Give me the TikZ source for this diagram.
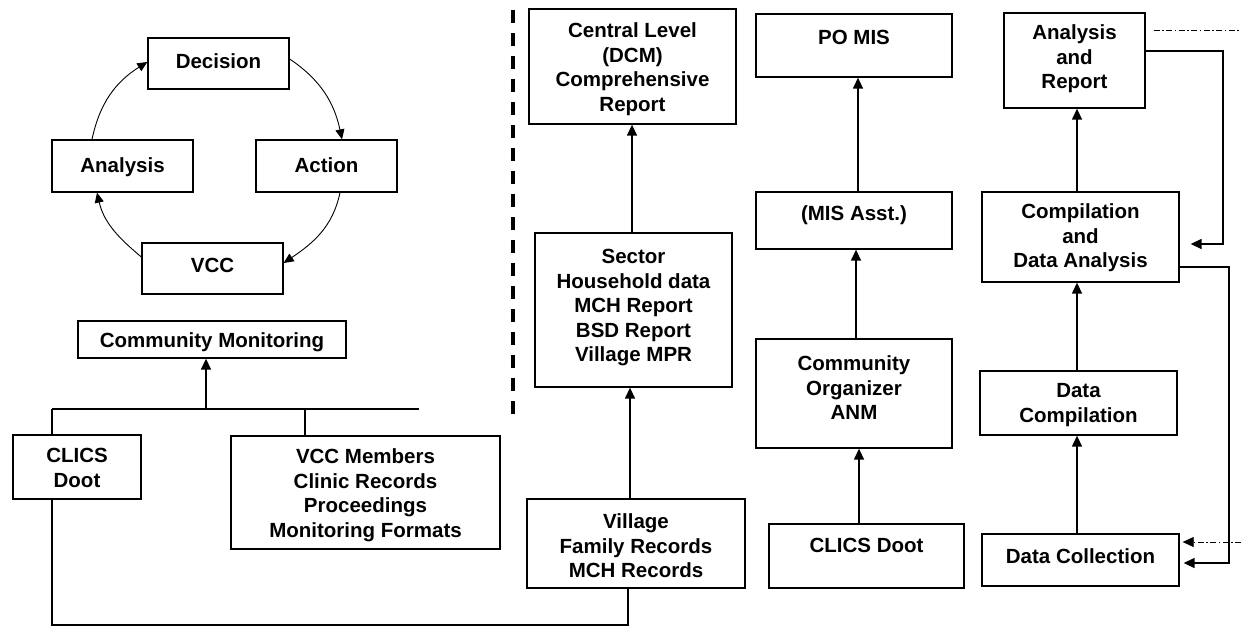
\documentclass[tikz,border=0pt]{standalone}
\usepackage{fontspec}
\setmainfont{Liberation Sans}
\usetikzlibrary{arrows.meta}
\newcommand\mybox[7]{%
  \node[boxst, minimum width=#4pt, minimum height=#5pt] (#1) at (#2,-#3) {};
  \node[txtst] (#1t) at (#2,-#6) {#7};}
\begin{document}
\begin{tikzpicture}[x=1pt,y=1pt,
  boxst/.style={draw, line width=1.3pt, inner sep=0pt},
  txtst/.style={inner sep=0pt, align=center, font=\fontsize{20.5}{24.5}\selectfont\bfseries},
  arr/.style={line width=1.4pt, -{Triangle[length=11pt,width=10pt]}},
  arcarr/.style={line width=0.9pt, -{Triangle[length=10pt,width=9pt]}},
  plain/.style={line width=1.4pt},
  dashdot/.style={line width=0.8pt, dash pattern=on 6pt off 2.5pt on 1.5pt off 2.5pt}]
\useasboundingbox (0,0) rectangle (1241,-627);
% cycle
\mybox{dec}{218.5}{63.5}{141}{51}{61}{Decision}
\mybox{ana}{122.5}{166}{141}{52}{167}{Analysis}
\mybox{act}{326.5}{166}{141}{52}{165}{Action}
\mybox{vcc}{212.5}{268.5}{141}{51}{265}{VCC}
\draw[arcarr] ([xshift=-30.5pt]ana.north) to[out=78,in=212] ([yshift=1.5pt]dec.west);
\draw[arcarr] ([yshift=4.5pt]dec.east) to[out=-34,in=102] ([xshift=15.5pt]act.north);
\draw[arcarr] ([xshift=13.5pt]act.south) to[out=-102,in=34] ([yshift=5.5pt]vcc.east);
\draw[arcarr] ([yshift=11.5pt]vcc.west) to[out=140,in=-77] ([xshift=-25.5pt]ana.south);
% community monitoring
\mybox{cm}{212}{339.5}{268}{37}{342}{Community Monitoring}
\mybox{clicsA}{77}{467}{128}{64}{468}{CLICS\\Doot}
\mybox{vccm}{365.5}{492.5}{269}{113}{495}{VCC Members\\Clinic Records\\Proceedings\\Monitoring Formats}
\coordinate (busL) at (52,-409);
\coordinate (busR) at (419,-409);
\coordinate (busM) at (206,-409);
\coordinate (busV) at (305,-409);
\draw[plain] (busL) -- (busR);
\draw[arr] (busM) -- (cm.south -| busM);
\draw[plain] (busL) -- (clicsA.north -| busL);
\draw[plain] (busV) -- (vccm.north -| busV);
% dashed separator
\coordinate (sepT) at (513,-10);
\coordinate (sepB) at (513,-420);
\draw[line width=3.5pt, dash pattern=on 13pt off 10pt] (sepT) -- (sepB);
% central column
\mybox{central}{632.5}{66.5}{207}{115}{69}{Central Level\\(DCM)\\Comprehensive\\Report}
\mybox{sector}{633.5}{310}{197}{154}{308}{Sector\\Household data\\MCH Report\\BSD Report\\Village MPR}
\mybox{village}{636}{543.5}{218}{89}{546}{Village\\Family Records\\MCH Records}
\coordinate (xc1) at (632,0);
\coordinate (xc2) at (630,0);
\draw[arr] (sector.north -| xc1) -- (central.south -| xc1);
\draw[arr] (village.north -| xc2) -- (sector.south -| xc2);
\coordinate (botL) at (52,-625);
\coordinate (botR) at (628,-625);
\draw[plain] (clicsA.south -| botL) -- (botL) -- (botR) -- (village.south -| botR);
% MIS column
\mybox{pomis}{854}{45.5}{196}{63}{37}{PO MIS}
\mybox{misasst}{854}{220.5}{196}{57}{215}{(MIS Asst.)}
\mybox{co}{854}{393.5}{196}{109}{388}{Community\\Organizer\\ANM}
\mybox{clicsB}{866.5}{556}{195}{64}{545}{CLICS Doot}
\coordinate (xm1) at (858,0);
\coordinate (xm2) at (856,0);
\coordinate (xm3) at (859,0);
\draw[arr] (misasst.north -| xm1) -- (pomis.south -| xm1);
\draw[arr] (co.north -| xm2) -- (misasst.south -| xm2);
\draw[arr] (clicsB.north -| xm3) -- (co.south -| xm3);
% right column
\mybox{ar}{1074.5}{60.5}{141}{95}{59}{Analysis\\and\\Report}
\mybox{cda}{1080.5}{237}{197}{90}{238}{Compilation\\and\\Data Analysis}
\mybox{dcomp}{1078.5}{403}{197}{64}{405}{Data\\Compilation}
\mybox{dcol}{1080.5}{560}{197}{52}{556}{Data Collection}
\coordinate (xr) at (1077,0);
\draw[arr] (dcol.north -| xr) -- (dcomp.south -| xr);
\draw[arr] (dcomp.north -| xr) -- (cda.south -| xr);
\draw[arr] (cda.north -| xr) -- (ar.south -| xr);
\coordinate (lp1a) at (1223,-51);
\coordinate (lp1b) at (1223,-244);
\draw[arr] ([yshift=9.5pt]ar.east) -- (lp1a) -- (lp1b) -- ([xshift=11pt,yshift=-7pt]cda.east);
\coordinate (lp2a) at (1229,-267);
\coordinate (lp2b) at (1229,-563);
\draw[arr] ([yshift=-30pt]cda.east) -- (lp2a) -- (lp2b) -- ([xshift=4pt,yshift=-3pt]dcol.east);
\coordinate (ddA) at (1241,-30);
\coordinate (ddB) at (1241,-542);
\draw[dashdot] ([xshift=8pt,yshift=30.5pt]ar.east) -- (ddA);
\draw[dashdot, -{Triangle[length=11pt,width=10pt]}] (ddB) -- ([xshift=3pt,yshift=18pt]dcol.east);
\end{tikzpicture}
\end{document}
